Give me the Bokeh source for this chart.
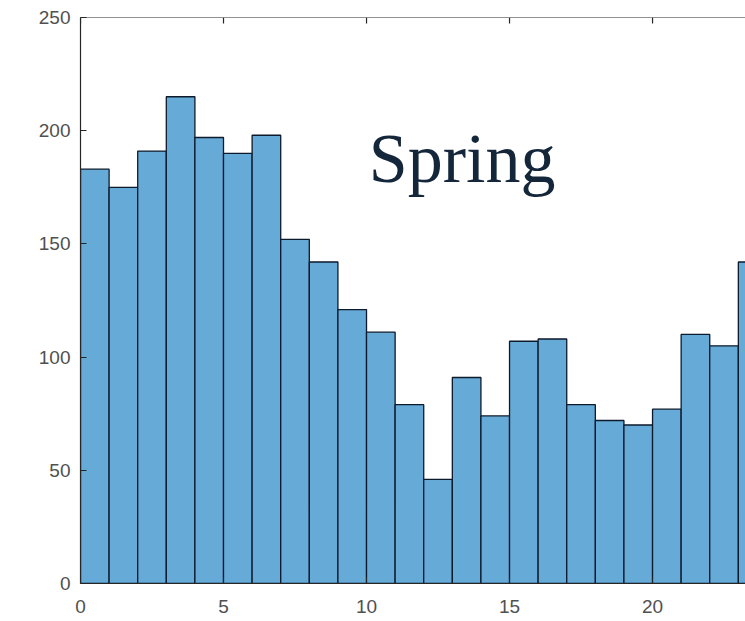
from bokeh.plotting import figure
from bokeh.models import LinearAxis, FixedTicker, Range1d, Span
from bokeh.embed import file_html
from bokeh.resources import INLINE
from bokeh.core.properties import value

# hour-of-day histogram (spring)
hours = list(range(24))
counts = [183, 175, 191, 215, 197, 190, 198, 152, 142, 121, 111, 79,
          46, 91, 74, 107, 108, 79, 72, 70, 77, 110, 105, 142]
x_ticks = [0, 5, 10, 15, 20]
y_ticks = [0, 50, 100, 150, 200, 250]
title_text = "Spring"

Y_MAX = 250
p = figure(width=745, height=620, output_backend="svg", toolbar_location=None,
           x_range=Range1d(0, 23.25), y_range=Range1d(0, Y_MAX),
           x_axis_location=None, y_axis_location=None,
           min_border_left=80, min_border_right=0, min_border_top=17, min_border_bottom=37)
p.outline_line_color = None
p.xgrid.visible = False
p.ygrid.visible = False

left = [h for h in hours]
right = [h + 1 for h in hours]
p.quad(left=left, right=right, bottom=0, top=counts,
       fill_color="#66AAD7", line_color="#0d1a2b", line_width=1.3)

axis_color = "#262626"
label_color = "#505050"

def style(ax):
    ax.axis_line_color = axis_color
    ax.axis_line_width = 1.2
    ax.major_tick_line_color = axis_color
    ax.major_tick_in = 6
    ax.major_tick_out = 0
    ax.minor_tick_line_color = None
    ax.major_label_text_font = "Liberation Sans"
    ax.major_label_text_font_size = "19px"
    ax.major_label_text_color = label_color

xb = LinearAxis(ticker=FixedTicker(ticks=x_ticks))
style(xb)
xb.major_label_standoff = 16
p.add_layout(xb, "below")
yl = LinearAxis(ticker=FixedTicker(ticks=y_ticks))
style(yl)
yl.major_label_standoff = 10
p.add_layout(yl, "left")

# top box edge with inward ticks (MATLAB box on)
p.add_layout(Span(location=Y_MAX, dimension="width", line_color=axis_color, line_width=1.2))
p.segment(x0=x_ticks, y0=[Y_MAX] * len(x_ticks), x1=x_ticks,
          y1=[Y_MAX - 2.6] * len(x_ticks), line_color=axis_color, line_width=1.2)

p.text(x=[10.08], y=[187.7], text=[title_text], text_font=value("Liberation Serif"),
       text_font_size="70px", text_color="#14263a", text_baseline="alphabetic",
       text_align="left")

open("out.html", "w").write(file_html(p, INLINE))
